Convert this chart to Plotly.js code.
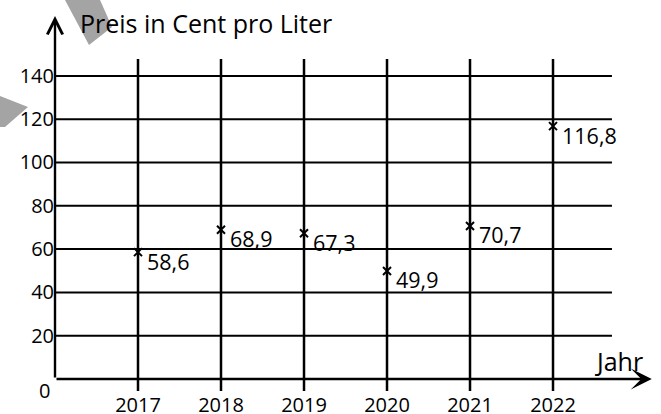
<!DOCTYPE html>
<html>
<head>
<meta charset="utf-8">
<script src="https://cdn.plot.ly/plotly-3.0.1.min.js"></script>
<style>html,body{margin:0;padding:0;background:#fff;}#chart{width:661px;height:414px;}</style>
</head>
<body>
<div id="chart"></div>
<script>
// Data
const years = [2017, 2018, 2019, 2020, 2021, 2022];
const prices = [58.6, 68.9, 67.3, 49.9, 70.7, 116.8];
const priceLabels = ["58,6", "68,9", "67,3", "49,9", "70,7", "116,8"];
const yTicks = [0, 20, 40, 60, 80, 100, 120, 140];
const yTickLabels = ["0", "20", "40", "60", "80", "100", "120", "140"];
const yAxisTitle = "Preis in Cent pro Liter";
const xAxisTitle = "Jahr";

const FONT = "Open Sans, Noto Sans, sans-serif";
const FS_TICK = 20, FS_LABEL = 21.5, FS_TITLE = 25;
const X0 = 2016, XGRID_END = 2022.71, XTIP = 2023.19;
const YGRID_TOP = 147.8, YLINE_BOTTOM = -5.54, YTIP = 167.7;

const shapes = [];
// horizontal grid lines (excluding 0, which is the axis)
yTicks.filter(v => v > 0).forEach(v => {
  shapes.push({type:'line', xref:'x', yref:'y', x0:X0, x1:XGRID_END, y0:v, y1:v,
    line:{color:'#000', width:2}});
});
// vertical grid lines at each year
years.forEach(yr => {
  shapes.push({type:'line', xref:'x', yref:'y', x0:yr, x1:yr, y0:YLINE_BOTTOM, y1:YGRID_TOP,
    line:{color:'#000', width:2.5}});
});
// grey scan artefacts
shapes.push({type:'path', xref:'paper', yref:'paper', layer:'below',
  path:'M0.0165,1 L0.0743,1 L0.0941,0.931 L0.0561,0.885 Z',
  fillcolor:'#a4a4a4', line:{width:0}});
shapes.push({type:'path', xref:'paper', yref:'paper', layer:'below',
  path:'M-0.0908,0.7545 L-0.0446,0.7263 L-0.0825,0.6752 L-0.0908,0.6752 Z',
  fillcolor:'#a4a4a4', line:{width:0}});

const annotations = [];
// axes with arrows
annotations.push({xref:'x', yref:'y', axref:'x', ayref:'y', x:XTIP, y:0, ax:X0, ay:0,
  showarrow:true, arrowhead:3, arrowwidth:2.6, arrowsize:1.35, arrowcolor:'#000', text:'', standoff:0});
annotations.push({xref:'x', yref:'y', axref:'x', ayref:'y', x:X0, y:YTIP, ax:X0, ay:0,
  showarrow:true, arrowhead:5, arrowwidth:2.4, arrowsize:1.25, arrowcolor:'#000', text:'', standoff:0});
// point labels
prices.forEach((p, i) => {
  annotations.push({xref:'x', yref:'y', x:years[i], y:p, text:priceLabels[i], showarrow:false,
    xanchor:'left', yanchor:'middle', xshift:7, yshift:-9, font:{family:FONT, size:FS_LABEL, color:'#000'}});
});
// zero label
annotations.push({xref:'paper', yref:'y', x:0, y:yTicks[0], text:yTickLabels[0], showarrow:false,
  xanchor:'right', yanchor:'middle', xshift:-3, yshift:-11, font:{family:FONT, size:FS_TICK, color:'#000'}});
// axis titles
annotations.push({xref:'paper', yref:'paper', x:(78-55)/606, y:(391-23)/391, text:yAxisTitle, showarrow:false,
  xanchor:'left', yanchor:'middle', font:{family:FONT, size:FS_TITLE, color:'#000'}});
annotations.push({xref:'x', yref:'y', x:X0 + (619-55)/83, y:(379-361)/2.165, text:xAxisTitle, showarrow:false,
  xanchor:'center', yanchor:'middle', font:{family:FONT, size:FS_TITLE, color:'#000'}});

const trace = {
  type:'scatter', mode:'markers', x:years, y:prices,
  marker:{symbol:'x-thin-open', size:8, line:{width:2, color:'#000'}, color:'#000'},
  hoverinfo:'skip', cliponaxis:false
};

const layout = {
  width:661, height:414,
  margin:{l:55, r:0, t:0, b:23},
  paper_bgcolor:'#fff', plot_bgcolor:'#fff',
  showlegend:false,
  xaxis:{range:[X0, 2023.301], tickvals:years, ticktext:years.map(String),
    showgrid:false, zeroline:false, showline:false, ticks:'', ticklen:0,
    tickfont:{family:FONT, size:FS_TICK, color:'#000'}, fixedrange:true},
  yaxis:{range:[YLINE_BOTTOM, 175.05], tickvals:yTicks.slice(1), ticktext:yTickLabels.slice(1),
    showgrid:false, zeroline:false, showline:false, ticks:'', ticklen:0,
    tickfont:{family:FONT, size:FS_TICK, color:'#000'}, fixedrange:true},
  shapes:shapes,
  annotations:annotations
};

Plotly.newPlot('chart', [trace], layout, {staticPlot:true, displayModeBar:false});
</script>
</body>
</html>
